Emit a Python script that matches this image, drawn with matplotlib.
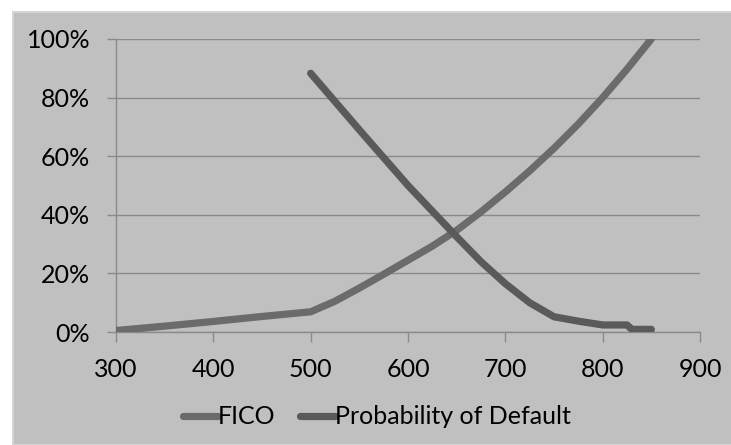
import matplotlib
matplotlib.use("Agg")
import matplotlib.pyplot as plt
from matplotlib.patches import Rectangle
from matplotlib.ticker import FuncFormatter

plt.rcParams['font.family'] = ['Lato', 'DejaVu Sans']

# data
fico_x = [300, 350, 400, 450, 500, 525, 550, 575, 600, 625, 650, 675, 700, 725, 750, 775, 800, 825, 850]
fico_y = [0.005, 0.02, 0.036, 0.053, 0.069, 0.105, 0.15, 0.197, 0.245, 0.293, 0.347, 0.41, 0.478, 0.55, 0.627, 0.71, 0.80, 0.897, 1.0]
pd_x = [500, 550, 600, 650, 675, 700, 725, 750, 775, 800, 825, 830, 850]
pd_y = [0.883, 0.69, 0.50, 0.325, 0.24, 0.165, 0.10, 0.052, 0.037, 0.024, 0.024, 0.009, 0.009]
x_ticks = [300, 400, 500, 600, 700, 800, 900]
y_ticks = [0, 0.2, 0.4, 0.6, 0.8, 1.0]

bg = '#c0c0c0'
fig = plt.figure(figsize=(7.31, 4.45), dpi=100, facecolor='white')
fig.patches.append(Rectangle((13 / 731, 0), 1, 1 - 12 / 445, transform=fig.transFigure,
                             facecolor=bg, edgecolor='#d4d4d4', lw=1.5, zorder=-10))

ax = fig.add_axes([116 / 731, 1 - 332 / 445, (700 - 116) / 731, (332 - 39) / 445])
ax.set_facecolor(bg)

ax.plot(fico_x, fico_y, color='#6b6b6b', lw=5.2, solid_capstyle='round', solid_joinstyle='round',
        label='FICO', zorder=3)
ax.plot(pd_x, pd_y, color='#5a5a5a', lw=5.2, solid_capstyle='round', solid_joinstyle='round',
        label='Probability of Default', zorder=4)

ax.set_xlim(300, 900)
ax.set_ylim(0, 1.0)
ax.set_xticks(x_ticks)
ax.set_yticks(y_ticks)
ax.yaxis.set_major_formatter(FuncFormatter(lambda v, p: f"{v*100:.0f}%"))
ax.grid(axis='y', color='#8a8a8a', lw=1.0, zorder=1)
ax.set_axisbelow(True)

for s in ['top', 'right']:
    ax.spines[s].set_visible(False)
for s in ['left', 'bottom']:
    ax.spines[s].set_color('#8a8a8a')
    ax.spines[s].set_linewidth(1.0)
ax.tick_params(axis='both', colors='#8a8a8a', labelcolor='black', labelsize=18, width=1)
ax.tick_params(axis='x', length=7.5, pad=11)
ax.tick_params(axis='y', length=6.5, pad=12)

ax.legend(loc='center', bbox_to_anchor=(377 / 731, 1 - 417 / 445), bbox_transform=fig.transFigure,
          ncol=2, frameon=False, fontsize=18, handlelength=1.4, handletextpad=0.0, columnspacing=1.0,
          borderpad=0)

fig.savefig('out.png', dpi=100, facecolor='white')
